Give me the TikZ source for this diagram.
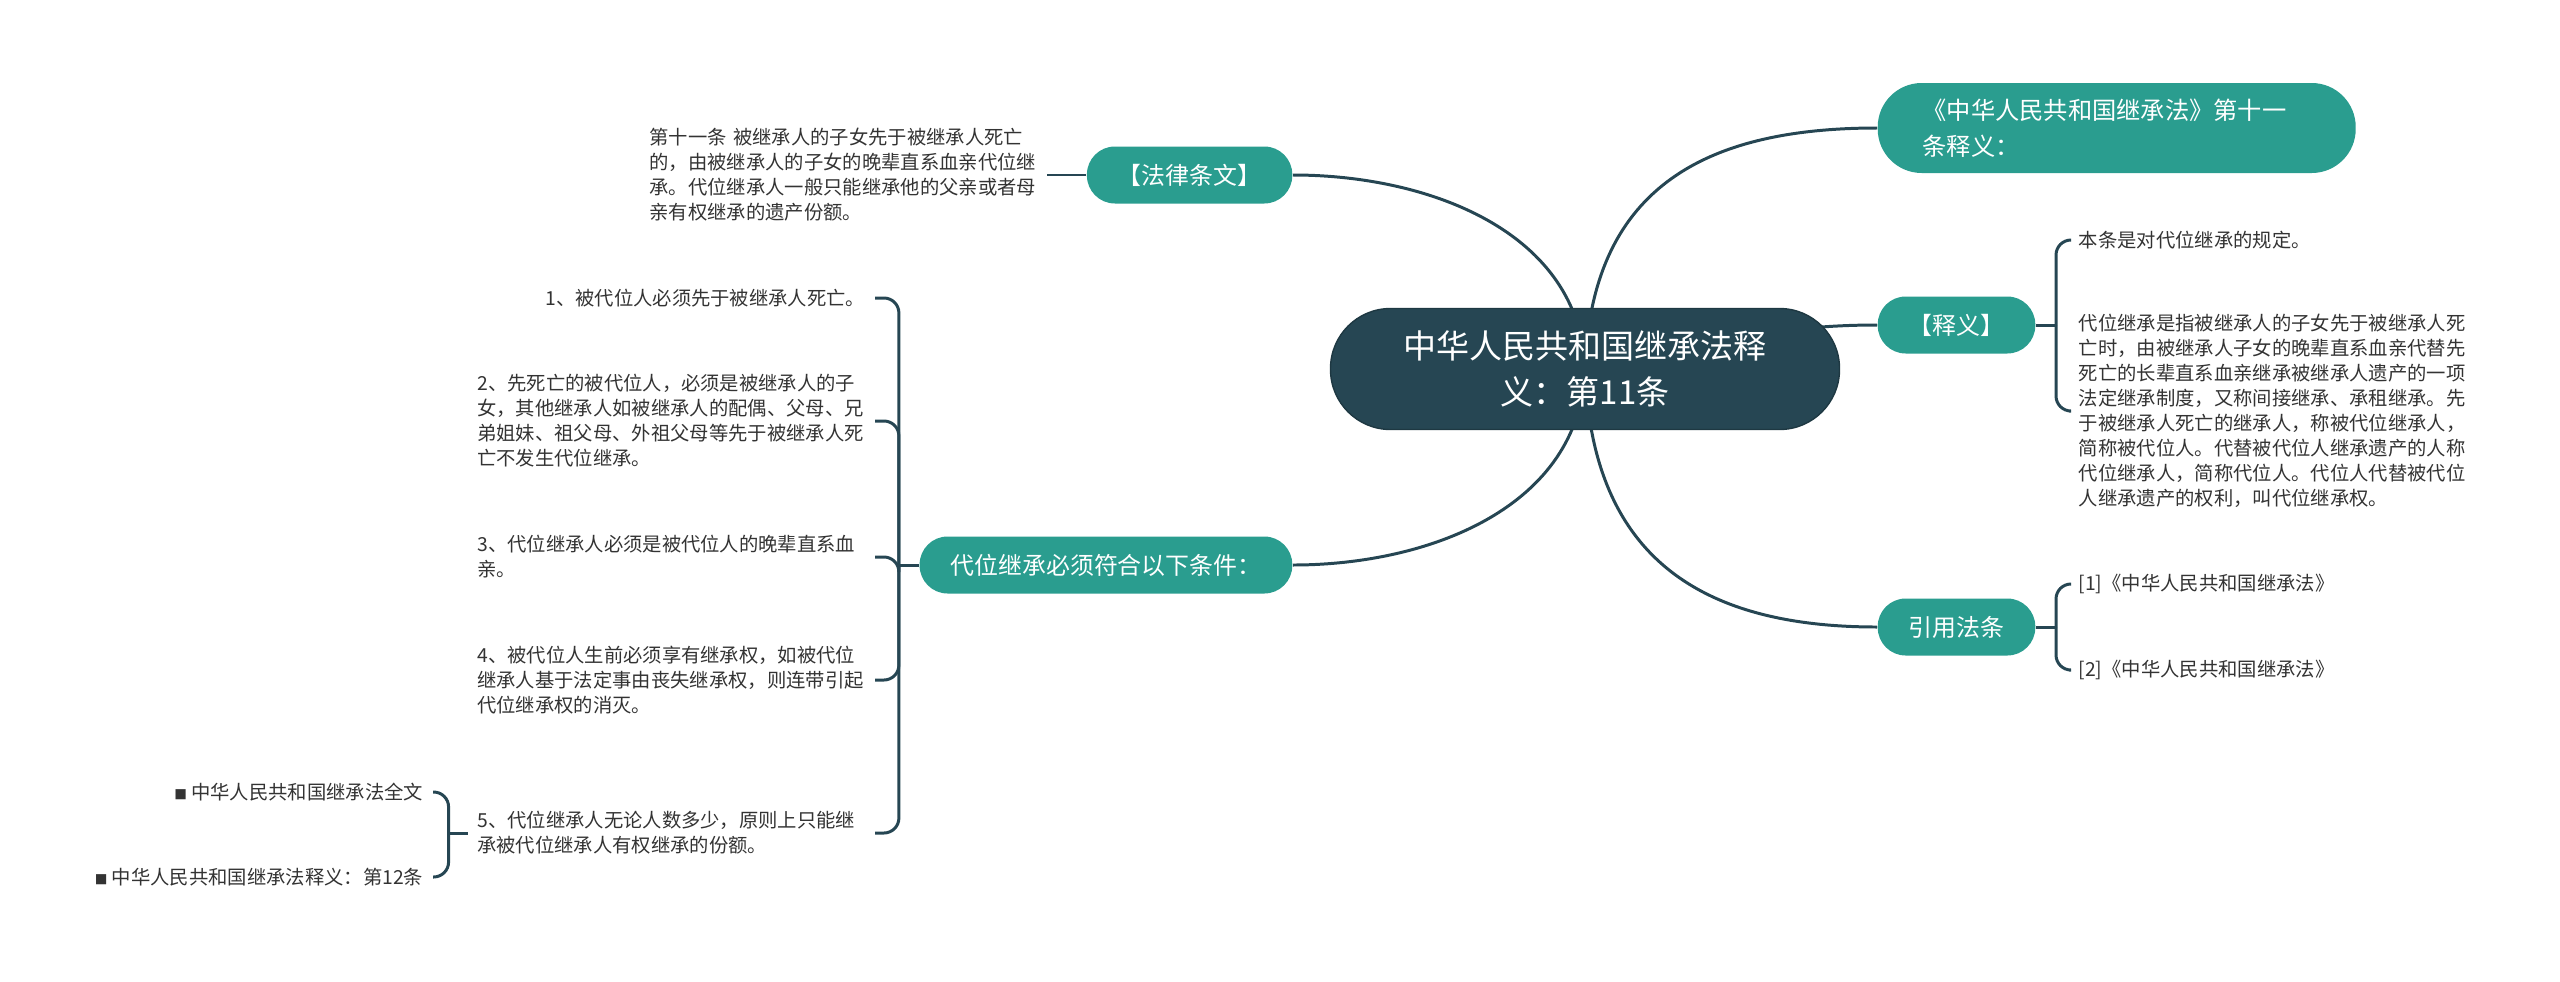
\documentclass[tikz,border=0pt]{standalone}
\usepackage{fontspec}
\setmainfont{Noto Sans CJK SC}
\usetikzlibrary{positioning, calc, backgrounds}
\definecolor{slate}{HTML}{264653}
\definecolor{topicgreen}{HTML}{2A9D8F}
\definecolor{inkgray}{HTML}{333333}

\begin{document}
\begin{tikzpicture}[
    link/.style={draw=slate, line width=0.85pt},
    bracket/.style={link, rounded corners=0.15cm},
    topic/.style={fill=topicgreen, text=white, minimum height=0.57cm, rounded corners=0.28cm,
        inner xsep=0.31cm, inner ysep=0pt, font=\fontsize{6.8pt}{8pt}\selectfont},
    note/.style={text=inkgray, inner xsep=0.09cm, inner ysep=0pt, align=left,
        font=\fontsize{5.5pt}{7.1pt}\selectfont},
    block/.style={note, text width=3.88cm}]
    \path[use as bounding box] (0,0) rectangle (25.6,-9.81);

    % Nodes
    \node[fill=slate, draw=slate!80!black, text=white, minimum width=5.09cm, minimum height=1.21cm,
        rounded corners=0.6cm, align=center, font=\fontsize{9.4pt}{13.1pt}\selectfont]
        (root) at (15.85,-3.69) {中华人民共和国继承法释\\义：第11条};
    \node[topic, anchor=east] (law) at (12.93,-1.75) {【法律条文】};
    \node[topic, anchor=east] (cond) at (12.93,-5.65) {代位继承必须符合以下条件：};
    \node[topic, anchor=west, minimum height=0.9cm, rounded corners=0.44cm, text width=3.88cm,
        inner xsep=0.45cm, align=left, font=\fontsize{6.9pt}{10.2pt}\selectfont]
        (title) at (18.77,-1.28) {《中华人民共和国继承法》第十一\\条释义：};
    \node[topic, anchor=west] (yi) at (18.77,-3.25) {【释义】};
    \node[topic, anchor=west] (cites) at (18.77,-6.27) {引用法条};

    % Notes
    \node[block, left=0.39cm of law] (lawtext) {第十一条 被继承人的子女先于被继承人死亡\\的，由被继承人的子女的晚辈直系血亲代位继\\承。代位继承人一般只能继承他的父亲或者母\\亲有权继承的遗产份额。};

    \node[note, anchor=east] (item1) at (8.75,-2.98) {1、被代位人必须先于被继承人死亡。};
    \node[block, anchor=east] (item2) at (8.75,-4.21) {2、先死亡的被代位人，必须是被继承人的子\\女，其他继承人如被继承人的配偶、父母、兄\\弟姐妹、祖父母、外祖父母等先于被继承人死\\亡不发生代位继承。};
    \node[block, anchor=east] (item3) at (8.75,-5.57) {3、代位继承人必须是被代位人的晚辈直系血\\亲。};
    \node[block, anchor=east] (item4) at (8.75,-6.80) {4、被代位人生前必须享有继承权，如被代位\\继承人基于法定事由丧失继承权，则连带引起\\代位继承权的消灭。};
    \node[block, anchor=east] (item5) at (8.75,-8.33) {5、代位继承人无论人数多少，原则上只能继\\承被代位继承人有权继承的份额。};

    \node[note, anchor=east] (sub1) at (4.33,-7.92) {{\fontsize{3.6pt}{4pt}\selectfont ■} 中华人民共和国继承法全文};
    \node[note, anchor=east] (sub2) at (4.33,-8.77) {{\fontsize{3.6pt}{4pt}\selectfont ■} 中华人民共和国继承法释义：第12条};

    \node[note, anchor=west] (yinote1) at (20.69,-2.40) {本条是对代位继承的规定。};
    \node[block, anchor=west] (yinote2) at (20.69,-4.11) {代位继承是指被继承人的子女先于被继承人死\\亡时，由被继承人子女的晚辈直系血亲代替先\\死亡的长辈直系血亲继承被继承人遗产的一项\\法定继承制度，又称间接继承、承租继承。先\\于被继承人死亡的继承人，称被代位继承人，\\简称被代位人。代替被代位人继承遗产的人称\\代位继承人，简称代位人。代位人代替被代位\\人继承遗产的权利，叫代位继承权。};

    \node[note, anchor=west] (cite1) at (20.69,-5.84) {[1]《中华人民共和国继承法》};
    \node[note, anchor=west] (cite2) at (20.69,-6.70) {[2]《中华人民共和国继承法》};

    % Main branches
    \begin{scope}[on background layer]
        \draw[link] (root.center) to[out=92, in=0] (law.east);
        \draw[link] (root.center) to[out=268, in=0] (cond.east);
        \draw[link] (root.center) to[out=88, in=180, looseness=1.2] (title.west);
        \draw[link] (root.center) to[out=10, in=180] (yi.west);
        \draw[link] (root.center) to[out=272, in=180, looseness=1.2] (cites.west);
    \end{scope}

    % Brackets
    \coordinate (condj) at ($(cond.west)+(-0.2,0)$);
    \coordinate (item5j) at ($(item5.west)+(-0.19,0)$);
    \coordinate (yij) at ($(yi.east)+(0.2,0)$);
    \coordinate (citej) at ($(cites.east)+(0.2,0)$);

    \draw[link] (law.west) -- (lawtext.east);

    \draw[link] (cond.west) -- (condj);
    \draw[bracket] (condj) |- (item1.east);
    \draw[bracket] (condj) |- (item2.east);
    \draw[bracket] (condj) |- (item3.east);
    \draw[bracket] (condj) |- (item4.east);
    \draw[bracket] (condj) |- (item5.east);

    \draw[link] (item5.west) -- (item5j);
    \draw[bracket] (item5j) |- (sub1.east);
    \draw[bracket] (item5j) |- (sub2.east);

    \draw[link] (yi.east) -- (yij);
    \draw[bracket] (yij) |- (yinote1.west);
    \draw[bracket] (yij) |- (yinote2.west);

    \draw[link] (cites.east) -- (citej);
    \draw[bracket] (citej) |- (cite1.west);
    \draw[bracket] (citej) |- (cite2.west);
\end{tikzpicture}
\end{document}
